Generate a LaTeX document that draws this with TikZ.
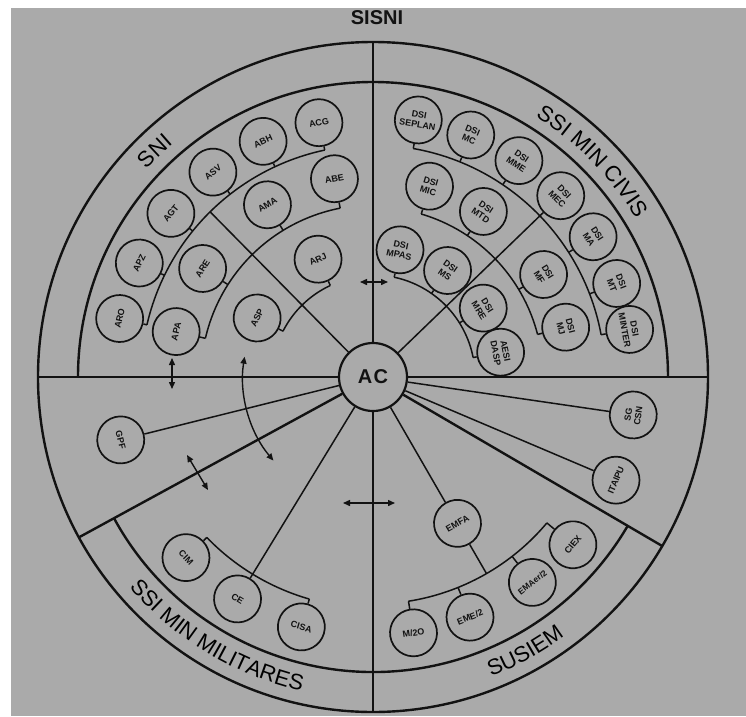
\documentclass[tikz,border=0pt]{standalone}
\usepackage{fontspec}
\setmainfont{Liberation Sans}
\usetikzlibrary{arrows.meta,decorations.text}
\definecolor{bg}{RGB}{170,170,170}
\definecolor{ink}{RGB}{18,18,18}
\newcommand{\lblfont}{\fontsize{9}{10}\selectfont\bfseries}
\newcommand{\ttlfont}{\fontsize{22}{22}\selectfont}
\tikzset{
  circ/.style={circle, draw=ink, line width=1.7pt, minimum size=47pt, inner sep=0pt, align=center, font=\lblfont, text=ink},
  shelf/.style={draw=ink, line width=1.5pt},
  conn/.style={draw=ink, line width=1.5pt},
  frame/.style={draw=ink, line width=2.4pt},
  dblarrow/.style={draw=ink, line width=1.4pt, {Triangle[length=7pt,width=6pt]}-{Triangle[length=7pt,width=6pt]}},
  ttl/.style={decorate, decoration={text along path, text align=center, text={#1}}},
}
\begin{document}
\begin{tikzpicture}[x=1pt,y=1pt]
\useasboundingbox (-373,-339) rectangle (373,377);
\fill[bg] (-373,-339) rectangle (373,377);
\fill[white] (-373,369) rectangle (373,377);
\fill[white] (-373,-339) rectangle (-362,377);

% outer circle and band
\draw[frame] (0,0) circle[radius=335pt];
\draw[frame] (0:295pt) arc[start angle=0, end angle=180, radius=295pt];
\draw[frame] (208.6:295pt) arc[start angle=208.6, end angle=329.7, radius=295pt];

% centre
\node[circle, draw=ink, line width=2.2pt, minimum size=68pt, inner sep=0pt,
      font=\fontsize{20}{20}\selectfont\bfseries, text=ink] (ac) at (0,0) {A\kern1.5pt C};

% sector boundaries
\coordinate (oE) at (0:335pt);
\coordinate (oN) at (90:335pt);
\coordinate (oW) at (180:335pt);
\coordinate (oSW) at (208.6:335pt);
\coordinate (oS) at (270:335pt);
\coordinate (oSE) at (329.7:335pt);
\draw[frame] (ac) -- (oN);
\draw[frame] (ac) -- (oW);
\draw[frame] (ac) -- (oSW);
\draw[frame] (ac) -- (oS);
\draw[frame] (ac) -- (oSE);
\draw[frame] (ac) -- (oE);

% titles
\node[font=\fontsize{20}{20}\selectfont\bfseries, text=ink] (sisni) at (4,359) {SISNI};
\path[ttl={|\ttlfont|SNI}] (152:307pt) arc[start angle=152, end angle=116, radius=307pt];
\path[ttl={|\ttlfont|SSI MIN CIVIS}] (72:307pt) arc[start angle=72, end angle=17, radius=307pt];
\path[ttl={|\ttlfont|SSI MIN  MILITARES}] (211:322pt) arc[start angle=211, end angle=267, radius=322pt];
\path[ttl={|\ttlfont|SUSIEM}] (282:322pt) arc[start angle=282, end angle=316, radius=322pt];

% ---------- SNI ----------
\draw[shelf] (167:232pt) arc[start angle=167, end angle=102, radius=232pt];
\foreach \a/\t/\n in {167/ARO/aro, 154/APZ/apz, 141/AGT/agt, 128/ASV/asv, 115/ABH/abh, 102/ACG/acg}{
  \node[circ, rotate=\a-90] (\n) at (\a:260pt) {\t};
  \coordinate (s\n) at (\a:232pt);
  \draw[conn] (s\n) -- (\n);
}
\draw[shelf] (167:172pt) arc[start angle=167, end angle=101, radius=172pt];
\foreach \a/\t/\n in {167/APA/apa, 147.5/ARE/are, 121.5/AMA/ama, 101/ABE/abe}{
  \node[circ, rotate=\a-90] (\n) at (\a:202pt) {\t};
  \coordinate (s\n) at (\a:172pt);
  \draw[conn] (s\n) -- (\n);
}
\draw[shelf] (153:101pt) arc[start angle=153, end angle=115, radius=101pt];
\foreach \a/\t/\n in {153/ASP/asp, 115/ARJ/arj}{
  \node[circ, rotate=\a-90] (\n) at (\a:130pt) {\t};
  \coordinate (s\n) at (\a:101pt);
  \draw[conn] (s\n) -- (\n);
}
\coordinate (dsni) at (134.6:232pt);
\draw[conn] (ac) -- (dsni);

% ---------- SSI MIN CIVIS ----------
\draw[shelf] (80:232pt) arc[start angle=80, end angle=10.5, radius=232pt];
\foreach \a/\t/\n in {80/{DSI\\SEPLAN}/seplan, 68/{DSI\\MC}/mc, 56/{DSI\\MME}/mme, 44/{DSI\\MEC}/mec, 32.5/{DSI\\MA}/ma, 21/{DSI\\MT}/mt, 10.5/{DSI\\MINTER}/minter}{
  \node[circ, rotate=\a-90] (\n) at (\a:261pt) {\t};
  \coordinate (s\n) at (\a:232pt);
  \draw[conn] (s\n) -- (\n);
}
\draw[shelf] (73.5:170pt) arc[start angle=73.5, end angle=14.5, radius=170pt];
\foreach \a/\t/\n in {73.5/{DSI\\MIC}/mic, 56.3/{DSI\\MTD}/mtd, 31/{DSI\\MF}/mf, 14.5/{DSI\\MJ}/mj}{
  \node[circ, rotate=\a-90] (\n) at (\a:199pt) {\t};
  \coordinate (s\n) at (\a:170pt);
  \draw[conn] (s\n) -- (\n);
}
\draw[shelf] (78:102pt) arc[start angle=78, end angle=11, radius=102pt];
\foreach \a/\t/\n in {78/{DSI\\MPAS}/mpas, 55/{DSI\\MS}/ms, 32/{DSI\\MRE}/mre, 11/{AESI\\DASP}/dasp}{
  \node[circ, rotate=\a-90] (\n) at (\a:130pt) {\t};
  \coordinate (s\n) at (\a:102pt);
  \draw[conn] (s\n) -- (\n);
}
\coordinate (dciv) at (44:232pt);
\draw[conn] (ac) -- (dciv);

% ---------- open sector left ----------
\node[circ, rotate=284] (gpf) at (194:260pt) {GPF};
\draw[conn] (ac) -- (gpf);

% ---------- SSI MIN MILITARES ----------
\draw[shelf] (224:231pt) arc[start angle=224, end angle=254, radius=231pt];
\foreach \a/\t/\n in {224/CIM/cim, 238.6/CE/ce, 254/CISA/cisa}{
  \node[circ, rotate=\a+90] (\n) at (\a:260pt) {\t};
  \coordinate (s\n) at (\a:231pt);
  \draw[conn] (s\n) -- (\n);
}
\draw[conn] (ac) -- (sce);

% ---------- SUSIEM ----------
\node[circ, rotate=30] (emfa) at (300:169pt) {EMFA};
\draw[conn] (ac) -- (emfa);
\coordinate (semfa) at (300:227pt);
\draw[conn] (emfa) -- (semfa);
\draw[shelf] (279:227pt) arc[start angle=279, end angle=320, radius=227pt];
\node[circ, rotate=9] (m2o) at (279:259pt) {M/2O};
\node[circ, rotate=22] (eme) at (292:259pt) {EME/2};
\node[circ, rotate=37.8, font=\fontsize{8.5}{9.5}\selectfont\bfseries] (emaer) at (307.8:260pt) {EMAer/2};
\node[circ, rotate=50] (ciex) at (320:261pt) {CIEX};
\coordinate (sm2o) at (279:227pt);
\coordinate (seme) at (292:227pt);
\coordinate (semaer) at (307.8:227pt);
\coordinate (sciex) at (320:227pt);
\draw[conn] (sm2o) -- (m2o);
\draw[conn] (seme) -- (eme);
\draw[conn] (semaer) -- (emaer);
\draw[conn] (sciex) -- (ciex);

% ---------- open sector right ----------
\node[circ, rotate=81.7] (sg) at (351.7:263pt) {SG\\CSN};
\draw[conn] (ac) -- (sg);
\node[circ, rotate=67] (itaipu) at (337:264pt) {ITAIPU};
\draw[conn] (ac) -- (itaipu);

% ---------- arrows ----------
\coordinate (a1l) at (-13,95); \coordinate (a1r) at (15,95);
\draw[dblarrow] (a1l) -- (a1r);
\coordinate (a2t) at (-201,19); \coordinate (a2b) at (-201,-12);
\draw[dblarrow] (a2t) -- (a2b);
\coordinate (a3s) at (171:130pt);
\draw[dblarrow] (a3s) arc[start angle=171, end angle=220, radius=130pt];
\coordinate (a4a) at (-186,-78); \coordinate (a4b) at (-165,-113);
\draw[dblarrow] (a4a) -- (a4b);
\coordinate (a5l) at (-30,-126); \coordinate (a5r) at (22,-126);
\draw[dblarrow] (a5l) -- (a5r);
\end{tikzpicture}
\end{document}
